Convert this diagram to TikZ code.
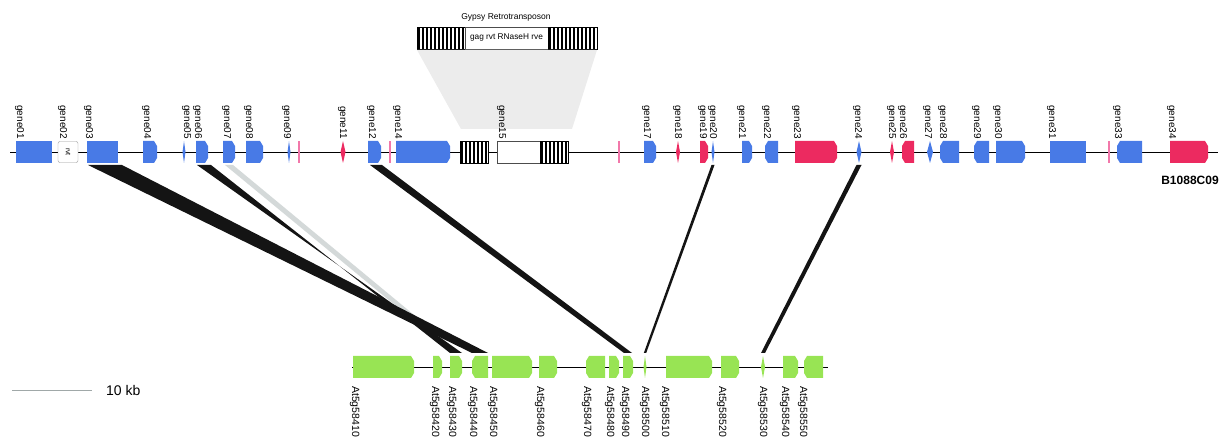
\documentclass[tikz,border=0pt]{standalone}
\usepackage{fontspec}
\setmainfont{Liberation Sans}
\usetikzlibrary{shapes.geometric}
\definecolor{gblue}{RGB}{72,122,230}
\definecolor{gred}{RGB}{236,42,96}
\definecolor{ggreen}{RGB}{152,228,84}
\definecolor{gpink}{RGB}{242,120,170}
\definecolor{shadegray}{RGB}{236,236,236}
\definecolor{ribbonlightc}{RGB}{212,217,217}
\definecolor{scalegray}{RGB}{160,168,168}
\newcommand\mkgene[6]{\node[#5=#6, minimum width={#3-#2}] (#1) at ({(#2+#3)/2},#4) {};}
\newcommand\mkthin[5]{\node[gT=#5, minimum width=#4] (#1) at (#2,#3) {};}
\newcommand\mkpink[2]{\node[gP] (#1) at (#2,152) {};}
\newcommand\toplab[2]{\node[toplabel] (l#1) at (#2,139) {gene#1};}
\newcommand\botlab[2]{\node[botlabel] (m#1) at (#2,386) {At5g58#1};}
\begin{document}
\begin{tikzpicture}[x=1pt,y=-1pt,
  gbase/.style={inner sep=0pt, outer sep=0pt, minimum height=22pt},
  gN/.style={gbase, fill=#1},
  gR/.style={gbase, path picture={\fill[#1] (path picture bounding box.north west) -- ([xshift=-3pt]path picture bounding box.north east) -- ([yshift=-5pt]path picture bounding box.north east) -- ([yshift=5pt]path picture bounding box.south east) -- ([xshift=-3pt]path picture bounding box.south east) -- (path picture bounding box.south west) -- cycle;}},
  gL/.style={gbase, path picture={\fill[#1] (path picture bounding box.north east) -- ([xshift=3pt]path picture bounding box.north west) -- ([yshift=-5pt]path picture bounding box.north west) -- ([yshift=5pt]path picture bounding box.south west) -- ([xshift=3pt]path picture bounding box.south west) -- (path picture bounding box.south east) -- cycle;}},
  gT/.style={shape=diamond, inner sep=0pt, outer sep=0pt, minimum height=22pt, fill=#1},
  gP/.style={inner sep=0pt, outer sep=0pt, minimum height=22pt, minimum width=1.3pt, fill=gpink},
  hatchbox/.style={draw=black, line width=0.6pt, fill=white, inner sep=0pt, outer sep=0pt, minimum height=22pt,
    path picture={\foreach \i in {0,...,14} \fill[black] ([xshift=\i*4pt+1pt]path picture bounding box.north west) rectangle ([xshift=\i*4pt+3pt]path picture bounding box.south west);}},
  whitebox/.style={draw=black!70, line width=0.6pt, fill=white, inner sep=0pt, outer sep=0pt, minimum height=22pt},
  toplabel/.style={rotate=-90, anchor=base east, inner sep=0pt, font=\fontsize{10}{12}\selectfont},
  botlabel/.style={rotate=-90, anchor=base west, inner sep=0pt, font=\fontsize{10.5}{12}\selectfont},
  ribbon/.style={fill=black!92},
  ribbonlight/.style={fill=ribbonlightc},
  backbone/.style={draw=black, line width=0.9pt}
]
\useasboundingbox (0,0) rectangle (1227,438);

% Retrotransposon detail
\node[font=\fontsize{8.5}{10}\selectfont] (title) at (506,17) {Gypsy Retrotransposon};
\node[hatchbox, minimum width=48] (rl) at (441,38) {};
\node[whitebox, minimum width=83, font=\fontsize{8.3}{10}\selectfont] (rm) at (506.5,38) {gag rvt RNaseH rve};
\node[hatchbox, minimum width=49] (rr) at (572.5,38) {};

\coordinate (tl) at (10,152);
\coordinate (tr) at (1218,152);
\coordinate (bl) at (352,367);
\coordinate (br) at (828,367);

\fill[shadegray] ([yshift=-1pt]rl.south west) -- ([yshift=-1pt]rr.south east) -- (572,129) -- (461,129) -- cycle;

\draw[backbone] (tl) -- (tr);
\draw[backbone] (bl) -- (br);

\node[hatchbox, minimum width=28] (h15l) at (474,152) {};
\node[whitebox, minimum width=43] (g15) at (518.5,152) {};
\node[hatchbox, minimum width=28] (h15r) at (554,152) {};

% top genes
\mkgene{g01}{16}{52}{152}{gN}{gblue}
\node[rotate=-90, draw=black!40, fill=white, rounded corners=2pt, minimum width=21pt, minimum height=20pt, inner sep=0pt, font=\fontsize{7}{8}\selectfont] (g02) at (68,152) {rvt};
\mkgene{g03}{87}{118}{152}{gN}{gblue}
\mkgene{g04}{143}{157}{152}{gR}{gblue}
\mkthin{g05}{184}{152}{3}{gblue}
\mkgene{g06}{196}{208}{152}{gR}{gblue}
\mkgene{g07}{223}{235}{152}{gR}{gblue}
\mkgene{g08}{246}{263}{152}{gR}{gblue}
\mkthin{g09}{289}{152}{3}{gblue}
\mkpink{g10}{299}
\mkthin{g11}{343}{152}{5}{gred}
\mkgene{g12}{368}{381}{152}{gR}{gblue}
\mkpink{g13}{390}
\mkgene{g14}{396}{450}{152}{gR}{gblue}
\mkpink{g16}{619}
\mkgene{g17}{644}{656}{152}{gR}{gblue}
\mkthin{g18}{678}{152}{4}{gred}
\mkgene{g19}{700}{708}{152}{gR}{gred}
\mkthin{g20}{713}{152}{3}{gblue}
\mkgene{g21}{742}{752}{152}{gR}{gblue}
\mkgene{g22}{765}{778}{152}{gL}{gblue}
\mkgene{g23}{795}{837}{152}{gR}{gred}
\mkthin{g24}{859}{152}{5}{gblue}
\mkthin{g25}{892}{152}{4}{gred}
\mkgene{g26}{902}{914}{152}{gL}{gred}
\mkthin{g27}{930}{152}{6}{gblue}
\mkgene{g28}{940}{959}{152}{gL}{gblue}
\mkgene{g29}{974}{989}{152}{gL}{gblue}
\mkgene{g30}{996}{1025}{152}{gR}{gblue}
\mkgene{g31}{1050}{1086}{152}{gN}{gblue}
\mkpink{g32}{1109}
\mkgene{g33}{1117}{1142}{152}{gL}{gblue}
\mkgene{g34}{1170}{1208}{152}{gR}{gred}

% top labels
\toplab{01}{17}
\toplab{02}{60}
\toplab{03}{86}
\toplab{04}{144}
\toplab{05}{184}
\toplab{06}{195}
\toplab{07}{224}
\toplab{08}{246}
\toplab{09}{284}
\toplab{11}{340}
\toplab{12}{369}
\toplab{14}{395}
\toplab{15}{499}
\toplab{17}{644}
\toplab{18}{675}
\toplab{19}{700}
\toplab{20}{710}
\toplab{21}{739}
\toplab{22}{764}
\toplab{23}{794}
\toplab{24}{855}
\toplab{25}{889}
\toplab{26}{900}
\toplab{27}{925}
\toplab{28}{940}
\toplab{29}{974}
\toplab{30}{995}
\toplab{31}{1049}
\toplab{33}{1115}
\toplab{34}{1169}

\node[font=\bfseries\fontsize{12}{14}\selectfont] (bac) at (1190,180) {B1088C09};

% bottom genes
\mkgene{a410}{353}{414}{367}{gR}{ggreen}
\mkgene{a420}{433}{442}{367}{gR}{ggreen}
\mkgene{a430}{450}{462}{367}{gR}{ggreen}
\mkgene{a440}{472}{488}{367}{gL}{ggreen}
\mkgene{a450}{492}{532}{367}{gR}{ggreen}
\mkgene{a460}{539}{557}{367}{gR}{ggreen}
\mkgene{a470}{586}{605}{367}{gL}{ggreen}
\mkgene{a480}{609}{619}{367}{gR}{ggreen}
\mkgene{a490}{623}{633}{367}{gR}{ggreen}
\mkthin{a500}{645}{367}{3}{ggreen}
\mkgene{a510}{666}{712}{367}{gR}{ggreen}
\mkgene{a520}{721}{739}{367}{gR}{ggreen}
\mkthin{a530}{763}{367}{4}{ggreen}
\mkgene{a540}{783}{798}{367}{gR}{ggreen}
\mkgene{a550}{804}{823}{367}{gL}{ggreen}

% bottom labels
\botlab{410}{352}
\botlab{420}{432}
\botlab{430}{449}
\botlab{440}{470}
\botlab{450}{490}
\botlab{460}{537}
\botlab{470}{584}
\botlab{480}{607}
\botlab{490}{622}
\botlab{500}{642}
\botlab{510}{662}
\botlab{520}{719}
\botlab{530}{760}
\botlab{540}{782}
\botlab{550}{800}

% synteny ribbons
\fill[ribbonlight] ([xshift=2pt,yshift=-2pt]g07.south west) -- ([xshift=-2pt,yshift=-2pt]g07.south east) -- ([xshift=-2pt,yshift=3pt]a430.north east) -- ([xshift=3pt,yshift=3pt]a430.north west) -- cycle;
\fill[ribbon] ([xshift=1pt,yshift=-2pt]g03.south west) -- ([xshift=4pt,yshift=-2pt]g03.south east) -- ([yshift=3pt]a440.north east) -- ([yshift=3pt]a440.north west) -- cycle;
\fill[ribbon] ([xshift=1pt,yshift=-2pt]g06.south west) -- ([xshift=3pt,yshift=-2pt]g06.south east) -- ([yshift=3pt]a430.north west) -- ([yshift=3pt]a430.north east) -- cycle;
\fill[ribbon] ([xshift=2pt,yshift=-2pt]g12.south west) -- ([xshift=1pt,yshift=-2pt]g12.south east) -- ([xshift=-1pt,yshift=3pt]a490.north east) -- ([xshift=1pt,yshift=3pt]a490.north west) -- cycle;
\fill[ribbon] ([xshift=-1.5pt,yshift=-2pt]g20.south) -- ([xshift=1.5pt,yshift=-2pt]g20.south) -- ([xshift=1.2pt,yshift=3pt]a500.north) -- ([xshift=-1.2pt,yshift=3pt]a500.north) -- cycle;
\fill[ribbon] ([xshift=-2.5pt,yshift=-2pt]g24.south) -- ([xshift=2.5pt,yshift=-2pt]g24.south) -- ([xshift=2pt,yshift=3pt]a530.north) -- ([xshift=-2pt,yshift=3pt]a530.north) -- cycle;

% scale bar
\coordinate (s1) at (12,390);
\coordinate (s2) at (92,390);
\draw[scalegray, line width=0.8pt] (s1) -- (s2);
\node[anchor=west, inner sep=0pt, font=\fontsize{14}{16}\selectfont] (kb) at (106,390) {10 kb};
\end{tikzpicture}
\end{document}
